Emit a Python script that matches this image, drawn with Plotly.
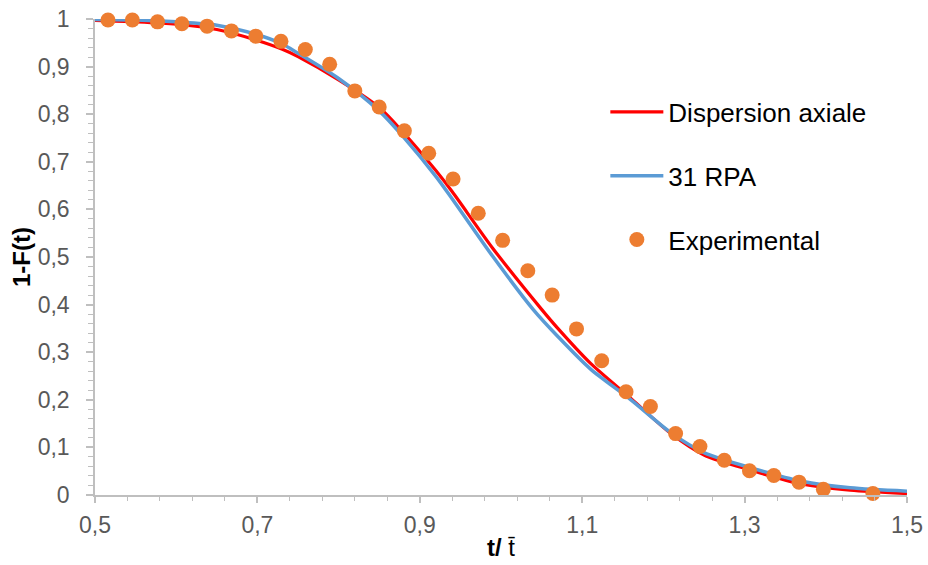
import plotly.graph_objects as go

# ---- data ----
exp_x = [0.516, 0.546, 0.577, 0.607, 0.638, 0.668, 0.698, 0.729, 0.759, 0.789,
         0.820, 0.850, 0.881, 0.911, 0.941, 0.972, 1.002, 1.033, 1.063, 1.093,
         1.124, 1.154, 1.184, 1.215, 1.245, 1.275, 1.306, 1.336, 1.367, 1.397, 1.458]
exp_y = [0.998, 0.998, 0.994, 0.990, 0.985, 0.975, 0.964, 0.953, 0.936, 0.905,
         0.849, 0.815, 0.765, 0.718, 0.664, 0.592, 0.535, 0.471, 0.420, 0.349,
         0.282, 0.217, 0.186, 0.129, 0.102, 0.073, 0.051, 0.041, 0.027, 0.012, 0.003]

disp_x = [0.50, 0.55, 0.60, 0.65, 0.70, 0.73, 0.75, 0.80, 0.85, 0.88, 0.92, 0.94,
          0.99, 1.05, 1.07, 1.11, 1.16, 1.21, 1.25, 1.31, 1.37, 1.43, 1.50]
disp_y = [0.997, 0.994, 0.989, 0.978, 0.955, 0.937, 0.921, 0.872, 0.814, 0.761, 0.681, 0.637,
          0.518, 0.390, 0.350, 0.277, 0.203, 0.128, 0.084, 0.051, 0.023, 0.010, 0.003]

rpa_x = [0.50, 0.55, 0.60, 0.65, 0.70, 0.73, 0.75, 0.80, 0.85, 0.88, 0.92, 0.94,
         0.99, 1.04, 1.07, 1.11, 1.16, 1.21, 1.25, 1.31, 1.37, 1.43, 1.50]
rpa_y = [0.999, 0.998, 0.994, 0.987, 0.967, 0.948, 0.928, 0.875, 0.807, 0.752, 0.669, 0.622,
         0.501, 0.389, 0.333, 0.265, 0.200, 0.130, 0.089, 0.056, 0.029, 0.015, 0.008]

x_ticks = [0.5, 0.7, 0.9, 1.1, 1.3, 1.5]
x_tick_labels = ["0,5", "0,7", "0,9", "1,1", "1,3", "1,5"]
y_ticks = [0, 0.1, 0.2, 0.3, 0.4, 0.5, 0.6, 0.7, 0.8, 0.9, 1]
y_tick_labels = ["0", "0,1", "0,2", "0,3", "0,4", "0,5", "0,6", "0,7", "0,8", "0,9", "1"]

FONT = "Liberation Sans, Arial, sans-serif"
AXIS_COLOR = "#BFBFBF"

fig = go.Figure()
fig.add_trace(go.Scatter(
    x=disp_x, y=disp_y, mode="lines", name="Dispersion axiale",
    line=dict(color="#FF0000", width=3.2, shape="spline", smoothing=0.8),
    cliponaxis=False, legendgroup="a"))
fig.add_trace(go.Scatter(
    x=rpa_x, y=rpa_y, mode="lines", name="31 RPA",
    line=dict(color="#5B9BD5", width=3.5, shape="spline", smoothing=0.8),
    cliponaxis=False, legendgroup="b"))
fig.add_trace(go.Scatter(
    x=exp_x, y=exp_y, mode="markers", name="Experimental",
    marker=dict(color="#ED7D31", size=15, line=dict(width=0)),
    cliponaxis=False, legendgroup="c"))

fig.update_layout(
    width=928, height=565,
    margin=dict(l=95, r=21, t=19, b=70),
    paper_bgcolor="white", plot_bgcolor="white",
    separators=", ",
    font=dict(family=FONT, size=23, color="#595959"),
    showlegend=True,
    legend=dict(
        x=0.6285, y=0.854, xanchor="left", yanchor="top",
        font=dict(family=FONT, size=26, color="#000000"),
        bgcolor="rgba(0,0,0,0)", tracegroupgap=27, itemwidth=53,
    ),
    xaxis=dict(
        range=[0.5, 1.5], tickvals=x_ticks, ticktext=x_tick_labels,
        automargin=False, ticklabeloverflow="allow",
        showgrid=False, zeroline=False,
        showline=True, linecolor=AXIS_COLOR, linewidth=1.5,
        ticks="outside", ticklen=6, tickwidth=1.5, tickcolor=AXIS_COLOR,
        minor=dict(dtick=0.04, tick0=0.5, ticks="outside", ticklen=4,
                   tickwidth=1.2, tickcolor=AXIS_COLOR, showgrid=False),
        tickfont=dict(family=FONT, size=23, color="#595959"),
        ticklabelstandoff=3,
        title=dict(text="<b>t/ </b>t\u0304", standoff=2,
                   font=dict(family=FONT, size=24, color="#000000")),
    ),
    yaxis=dict(
        range=[0, 1], tickvals=y_ticks, ticktext=y_tick_labels,
        automargin=False, ticklabeloverflow="allow",
        showgrid=False, zeroline=False,
        showline=True, linecolor=AXIS_COLOR, linewidth=1.5,
        ticks="outside", ticklen=7, tickwidth=1.5, tickcolor=AXIS_COLOR,
        minor=dict(dtick=0.02, tick0=0, ticks="outside", ticklen=5,
                   tickwidth=1.2, tickcolor=AXIS_COLOR, showgrid=False),
        tickfont=dict(family=FONT, size=23, color="#595959"),
        ticklabelstandoff=12,
        title=dict(text="<b>1-F(t)</b>", standoff=0,
                   font=dict(family=FONT, size=24, color="#000000")),
    ),
)

# remove the browser's default 8px page margin so the figure fills the window
fig.write_html(
    "out.html",
    config={"displayModeBar": False},
    post_script="document.body.style.margin='0';document.body.style.overflow='hidden';",
)
